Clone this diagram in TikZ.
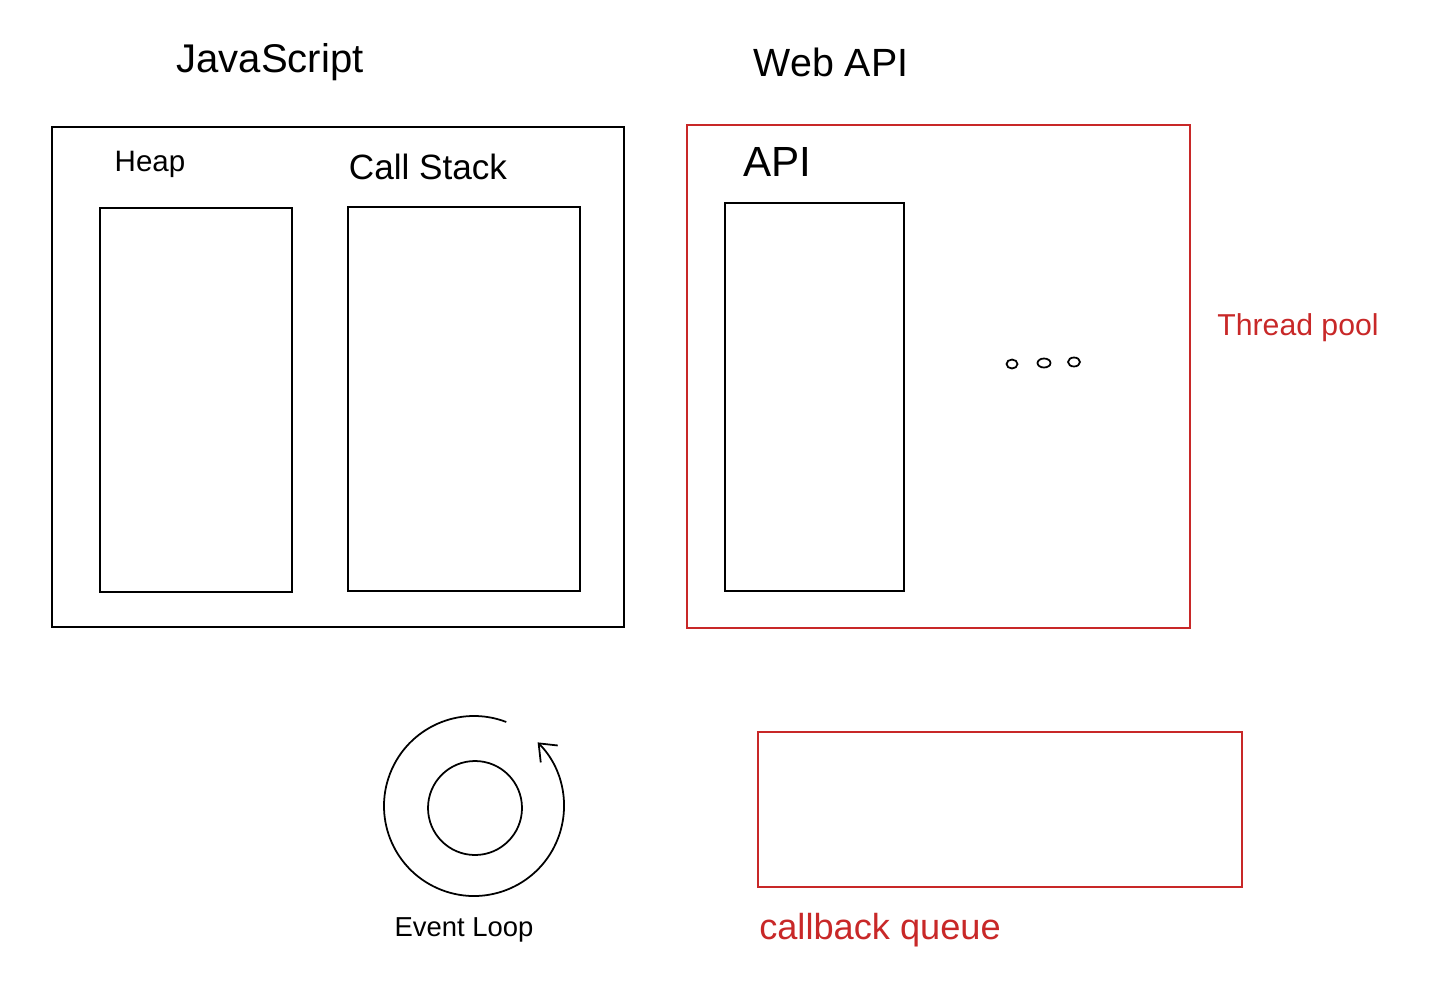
\documentclass[tikz,border=0pt]{standalone}
\usepackage{fontspec}
\setmainfont{Liberation Sans}
\usetikzlibrary{arrows.meta}
\definecolor{penred}{RGB}{200,40,40}
\tikzset{
    box/.style={line width=0.5pt, draw=black},
    redbox/.style={line width=0.5pt, draw=penred},
    hand/.style={inner sep=0pt, text=black},
    redhand/.style={inner sep=0pt, text=penred}
}

\begin{document}
\begin{tikzpicture}
    \useasboundingbox (0,0) rectangle (14.35,-9.9);

    % 标题
    \node[hand, font=\fontsize{11.4}{14}\selectfont] (jstitle) at (2.70,-0.62) {JavaScript};
    \node[hand, font=\fontsize{11.2}{14}\selectfont] (webtitle) at (8.31,-0.62) {Web API};

    % JavaScript 引擎
    \draw[box] (0.52,-1.27) rectangle (6.24,-6.27);
    \node[hand, font=\fontsize{8.4}{10}\selectfont] (heaplabel) at (1.50,-1.64) {Heap};
    \draw[box] (1.00,-2.08) rectangle (2.92,-5.92);
    \node[hand, font=\fontsize{10}{12}\selectfont] (stacklabel) at (4.28,-1.67) {Call Stack};
    \draw[box] (3.48,-2.07) rectangle (5.80,-5.91);

    % Web API
    \draw[redbox] (6.87,-1.25) rectangle (11.90,-6.28);
    \node[hand, font=\fontsize{12}{14}\selectfont] (apilabel) at (7.77,-1.62) {API};
    \draw[box] (7.25,-2.03) rectangle (9.04,-5.91);
    % 省略号
    \foreach \x/\y/\r in {10.12/-3.64/0.055, 10.44/-3.63/0.065, 10.74/-3.62/0.06} {
        \draw[line width=0.5pt] (\x,\y) ellipse [x radius=\r, y radius=0.045];
    }
    \node[redhand, font=\fontsize{8.6}{10}\selectfont] (poollabel) at (12.98,-3.28) {Thread pool};

    % 事件循环
    \draw[line width=0.5pt, -{Straight Barb[length=1.5mm, width=2.4mm]}]
        (4.74,-8.06) ++(69:0.90) arc[start angle=69, end angle=405, radius=0.90];
    \draw[line width=0.5pt] (4.75,-8.08) circle (0.47);
    \node[hand, font=\fontsize{7.8}{10}\selectfont] (looplabel) at (4.64,-9.30) {Event Loop};

    % 回调队列
    \draw[redbox] (7.58,-7.32) rectangle (12.42,-8.87);
    \node[redhand, font=\fontsize{10.3}{12}\selectfont] (queuelabel) at (8.80,-9.30) {callback queue};
\end{tikzpicture}
\end{document}
